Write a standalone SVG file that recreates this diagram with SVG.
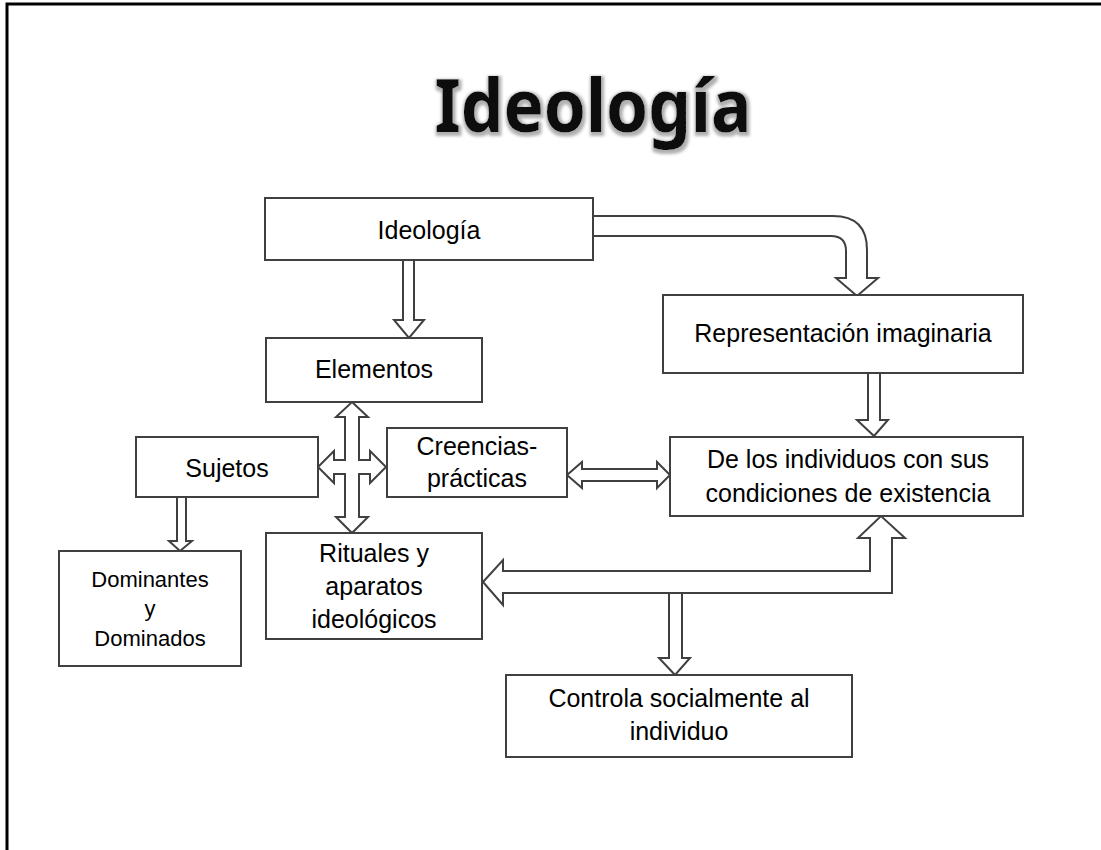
<svg xmlns="http://www.w3.org/2000/svg" width="1101" height="850" viewBox="0 0 1101 850">
<style>
.box{fill:#fff;stroke:#404040;stroke-width:2}
.arr{fill:#fff;stroke:#404040;stroke-width:2;stroke-linejoin:miter}
.t{font-family:"Liberation Sans",Arial,sans-serif;font-size:25px;fill:#000;text-anchor:middle}
.s{font-size:22px}
</style>
<defs>
<filter id="sh" x="-10%" y="-30%" width="130%" height="160%">
<feMorphology in="SourceAlpha" operator="dilate" radius="1.5" result="d"/>
<feGaussianBlur in="d" stdDeviation="1.5" result="b"/>
<feOffset in="b" dx="1" dy="2" result="o"/>
<feFlood flood-color="#b0b0b0"/>
<feComposite in2="o" operator="in" result="g"/>
<feMerge><feMergeNode in="g"/><feMergeNode in="SourceGraphic"/></feMerge>
</filter>
</defs>
<rect width="1101" height="850" fill="#fff"/>
<rect x="7" y="4" width="1200" height="1000" fill="none" stroke="#000" stroke-width="3"/>
<text x="593" y="132" font-family="'Noto Sans','Open Sans',sans-serif" font-weight="700" font-size="74" fill="#111" text-anchor="middle" textLength="317" lengthAdjust="spacingAndGlyphs" filter="url(#sh)">Ideología</text>

<g id="connectors">
<path class="arr" d="M403,260 L403,320 L394,320 L409,338 L424,320 L414,320 L414,260"/>
<path class="arr" d="M593,216 L833,216 Q867,216 867,250 L867,278 L878,278 L857,296 L836,278 L846,278 L846,251 Q846,236 831,236 L593,236"/>
<path class="arr" d="M868,373 L868,420 L857,420 L874,436 L888,420 L880,420 L880,373"/>
<path class="arr" d="M567,475 L582,462 L582,469 L657,469 L657,462 L670,475 L657,488 L657,481 L582,481 L582,488 Z"/>
<path class="arr" d="M352,402 L368,417 L359,417 L359,460 L370,460 L370,451 L386,467 L370,483 L370,474 L359,474 L359,517 L368,517 L352,533 L336,517 L345,517 L345,474 L334,474 L334,483 L318,467 L334,451 L334,460 L345,460 L345,417 L336,417 Z"/>
<path class="arr" d="M177,497 L177,541 L169,541 L180,551 L192,541 L186,541 L186,497"/>
<path class="arr" d="M669,593 L669,658 L659,658 L675,675 L690,658 L682,658 L682,593"/>
<path class="arr" d="M483,582 L503,560 L503,571 L870,571 L870,538 L858,538 L881,516 L905,538 L892,538 L892,593 L503,593 L503,605 Z"/>
</g>

<g id="n-ideologia"><rect class="box" x="265" y="198" width="328" height="62"/><text class="t" x="429" y="239">Ideología</text></g>
<g id="n-representacion"><rect class="box" x="663" y="295" width="360" height="78"/><text class="t" x="843" y="342">Representación imaginaria</text></g>
<g id="n-elementos"><rect class="box" x="266" y="338" width="216" height="64"/><text class="t" x="374" y="378">Elementos</text></g>
<g id="n-sujetos"><rect class="box" x="136" y="437" width="182" height="60"/><text class="t" x="227" y="477">Sujetos</text></g>
<g id="n-creencias"><rect class="box" x="387" y="428" width="180" height="69"/><text class="t" x="477" y="455">Creencias-</text><text class="t" x="477" y="487">prácticas</text></g>
<g id="n-delos"><rect class="box" x="670" y="437" width="353" height="79"/><text class="t" x="848" y="468">De los individuos con sus</text><text class="t" x="848" y="502">condiciones de existencia</text></g>
<g id="n-dominantes"><rect class="box" x="59" y="551" width="182" height="115"/><text class="t s" x="150" y="587">Dominantes</text><text class="t s" x="150" y="616">y</text><text class="t s" x="150" y="646">Dominados</text></g>
<g id="n-rituales"><rect class="box" x="266" y="533" width="216" height="106"/><text class="t" x="374" y="562">Rituales y</text><text class="t" x="374" y="595">aparatos</text><text class="t" x="374" y="628">ideológicos</text></g>
<g id="n-controla"><rect class="box" x="506" y="675" width="346" height="82"/><text class="t" x="679" y="707">Controla socialmente al</text><text class="t" x="679" y="740">individuo</text></g>
</svg>
